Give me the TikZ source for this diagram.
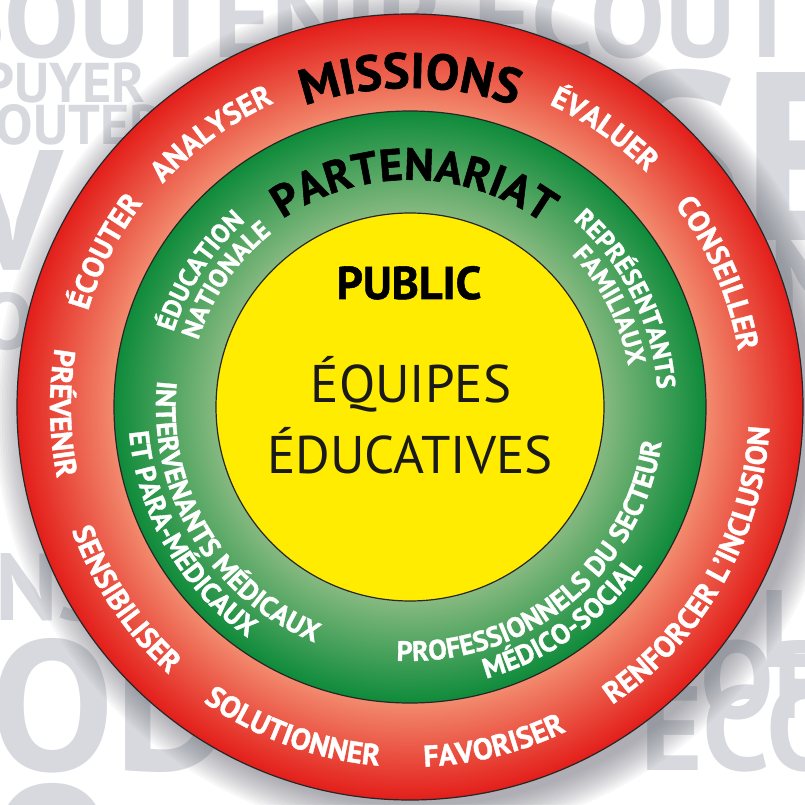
\documentclass[tikz,border=0pt]{standalone}
\usepackage{fontspec}
\setmainfont{PT Sans}
\newfontface\heavy{PT Sans Bold}[FakeBold=1.2]
\usetikzlibrary{decorations.text}
\definecolor{ringred}{HTML}{E31E1A}
\definecolor{ringsalmon}{HTML}{F28B6E}
\definecolor{ringgreen}{HTML}{0E8B3A}
\definecolor{ringlgreen}{HTML}{86B980}
\definecolor{pubyellow}{HTML}{FFEC00}
\definecolor{bgword}{HTML}{D7D9DE}
\definecolor{inktext}{HTML}{1A1A1A}
\definecolor{shadowgrey}{HTML}{5A5C66}
\pgfdeclareradialshading{redring}{\pgfpoint{0bp}{0bp}}{color(0bp)=(ringsalmon); color(18.8bp)=(ringsalmon); color(25bp)=(ringred); color(50bp)=(ringred)}
\pgfdeclareradialshading{greenring}{\pgfpoint{0bp}{0bp}}{color(0bp)=(ringlgreen); color(16.4bp)=(ringlgreen); color(25bp)=(ringgreen); color(50bp)=(ringgreen)}
\tikzset{
  bgw/.style={text=bgword,inner sep=0pt,anchor=base west},
  ringline/.style={draw=black!85,line width=1.2pt},
  shadowring/.style={fill=shadowgrey,opacity=0.045}
}
% clockwise text (letter tops outward): radius, centre angle, half span, size, text, colour
\newcommand\cwtext[6]{%
  \path[decorate,decoration={text along path,text align=center,text color=#6,
    text={|\heavy\fontsize{#4}{#4}\selectfont|#5}}]
    (#2+#3:#1) arc[start angle=#2+#3,end angle=#2-#3,radius=#1];}
% counter-clockwise text (letter tops inward)
\newcommand\ccwtext[5]{%
  \path[decorate,decoration={text along path,text align=center,text color=white,
    text={|\heavy\fontsize{#4}{#4}\selectfont|#5}}]
    (#2-#3:#1) arc[start angle=#2-#3,end angle=#2+#3,radius=#1];}
\begin{document}
\begin{tikzpicture}[x=1pt,y=1pt]
\useasboundingbox (0,0) rectangle (805,804);
\fill[white] (0,0) rectangle (805,804);
% background watermark words
\begin{scope}
\clip (0,0) rectangle (805,804);
\node[bgw,font=\bfseries\fontsize{112}{112}\selectfont] (bg1) at (-55,746) {SOUTENIR ÉCOUTER};
\node[bgw,font=\bfseries\fontsize{56}{56}\selectfont] (bg2) at (-84,701) {APPUYER};
\node[bgw,font=\bfseries\fontsize{56}{56}\selectfont] (bg3) at (-63,659) {ÉCOUTER};
\node[bgw,font=\bfseries\fontsize{170}{170}\selectfont] (bg4) at (-40,534) {V};
\node[bgw,font=\bfseries\fontsize{80}{80}\selectfont] (bg5) at (-20,454) {O};
\node[bgw,font=\bfseries\fontsize{95}{95}\selectfont] (bg6) at (-5,184) {NS};
\node[bgw,font=\bfseries\fontsize{185}{185}\selectfont] (bg7) at (-10,34) {OD};
\node[bgw,font=\bfseries\fontsize{185}{185}\selectfont] (bg8) at (-10,-111) {O};
\node[bgw,font=\bfseries\fontsize{240}{240}\selectfont] (bg9) at (615,563) {SE};
\node[bgw,font=\bfseries\fontsize{130}{130}\selectfont] (bg10) at (700,474) {EN};
\node[bgw,font=\bfseries\fontsize{110}{110}\selectfont] (bg11) at (760,137) {L};
\node[bgw,font=\bfseries\fontsize{110}{110}\selectfont] (bg12) at (700,86) {OPO};
\node[bgw,font=\bfseries\fontsize{120}{120}\selectfont] (bg13) at (640,34) {ECOU};
\end{scope}
\begin{scope}[shift={(410,397)}]
% soft shadow round the outer disc
\foreach \i in {1,...,14}{\fill[shadowring] (9,-6) circle[radius=391+2.4*\i];}
% rings
\path[shade,shading=redring,ringline] (0,0) circle[radius=393];
\path[shade,shading=greenring,ringline] (0,0) circle[radius=296];
\path[fill=pubyellow,ringline] (0,0) circle[radius=194];
% outer ring: missions
\cwtext{319}{90}{60}{50}{MISSIONS}{black}
\cwtext{333}{126}{40}{30}{ANALYSER}{white}
\cwtext{333}{55}{40}{30}{ÉVALUER}{white}
\cwtext{336}{153}{40}{30}{ÉCOUTER}{white}
\cwtext{333}{23.5}{40}{30}{CONSEILLER}{white}
\ccwtext{360}{181}{40}{30}{PRÉVENIR}
\ccwtext{360}{214}{40}{30}{SENSIBILISER}
\ccwtext{360}{250}{40}{30}{SOLUTIONNER}
\ccwtext{360}{284}{40}{30}{FAVORISER}
\ccwtext{360}{330.5}{50}{30}{RENFORCER L’INCLUSION}
% green ring: partenariat
\cwtext{227}{89}{70}{45}{PARTENARIAT}{black}
\cwtext{248}{147}{60}{26}{ÉDUCATION}{white}
\cwtext{222}{145.5}{60}{26}{NATIONALE}{white}
\cwtext{248}{26.5}{60}{26}{REPRÉSENTANTS}{white}
\cwtext{222}{27}{60}{26}{FAMILIAUX}{white}
\ccwtext{254}{211}{80}{28}{INTERVENANTS MÉDICAUX}
\ccwtext{282}{210}{80}{28}{ET PARA-MÉDICAUX}
\ccwtext{254}{309.5}{80}{28}{PROFESSIONNELS DU SECTEUR}
\ccwtext{282}{305.6}{80}{28}{MÉDICO-SOCIAL}
% centre: public
\node[font=\heavy\fontsize{46}{46}\selectfont,anchor=base,inner sep=0pt] (pub) at (-1,108) {PUBLIC};
\node[font=\fontsize{53}{53}\selectfont,text=inktext,anchor=base,inner sep=0pt] (eq1) at (1,5) {ÉQUIPES};
\node[font=\fontsize{53}{53}\selectfont,text=inktext,anchor=base,inner sep=0pt] (eq2) at (0,-66) {ÉDUCATIVES};
\end{scope}
\end{tikzpicture}
\end{document}
